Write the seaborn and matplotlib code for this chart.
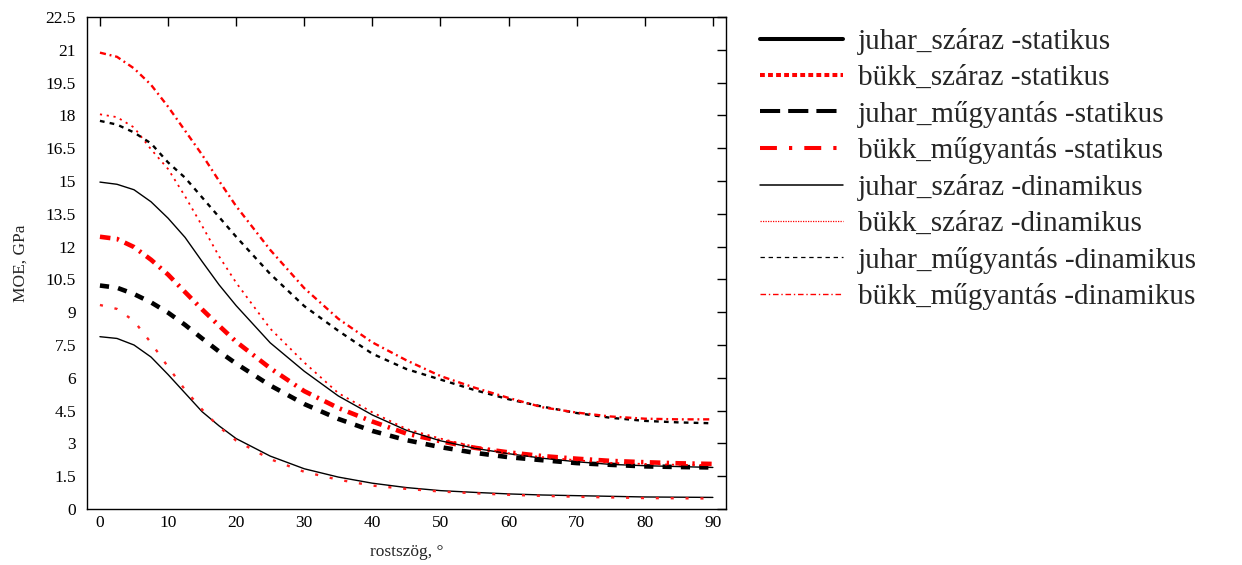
import numpy as np
import pandas as pd
import matplotlib
matplotlib.use("Agg")
import matplotlib.pyplot as plt
from matplotlib.lines import Line2D
import seaborn as sns

# ---- data ----
angle = [0, 2.5, 5, 7.5, 10, 12.5, 15, 17.5, 20, 25, 30, 35, 40, 45, 50, 55, 60, 65, 70, 75, 80, 85, 90]

juhar_szaraz_stat = [7.88, 7.8, 7.5, 6.95, 6.15, 5.3, 4.45, 3.8, 3.22, 2.42, 1.84, 1.46, 1.18, 0.98, 0.84, 0.76, 0.69, 0.64, 0.61, 0.58, 0.55, 0.54, 0.53]
bukk_szaraz_stat = [9.33, 9.15, 8.6, 7.6, 6.5, 5.45, 4.55, 3.75, 3.13, 2.28, 1.7, 1.34, 1.07, 0.92, 0.8, 0.72, 0.65, 0.6, 0.56, 0.53, 0.5, 0.49, 0.48]
juhar_mugy_stat = [10.22, 10.12, 9.83, 9.45, 8.98, 8.42, 7.8, 7.2, 6.65, 5.65, 4.8, 4.12, 3.57, 3.15, 2.83, 2.57, 2.37, 2.23, 2.1, 2.02, 1.95, 1.92, 1.9]
bukk_mugy_stat = [12.45, 12.35, 11.98, 11.4, 10.72, 9.92, 9.13, 8.38, 7.65, 6.44, 5.39, 4.62, 4.0, 3.45, 3.1, 2.8, 2.59, 2.42, 2.3, 2.2, 2.14, 2.09, 2.06]
juhar_szaraz_din = [14.95, 14.85, 14.6, 14.05, 13.3, 12.42, 11.32, 10.25, 9.3, 7.6, 6.3, 5.17, 4.3, 3.6, 3.12, 2.78, 2.53, 2.32, 2.16, 2.04, 1.98, 1.94, 1.9]
bukk_szaraz_din = [18.05, 17.92, 17.45, 16.45, 15.55, 14.3, 12.95, 11.55, 10.35, 8.25, 6.7, 5.3, 4.42, 3.66, 3.22, 2.85, 2.55, 2.37, 2.23, 2.11, 2.06, 2.02, 2.01]
juhar_mugy_din = [17.75, 17.58, 17.22, 16.72, 15.85, 15.15, 14.25, 13.35, 12.45, 10.75, 9.28, 8.15, 7.1, 6.4, 5.92, 5.44, 5.02, 4.68, 4.39, 4.17, 4.03, 3.96, 3.92]
bukk_mugy_din = [20.87, 20.68, 20.15, 19.4, 18.4, 17.3, 16.2, 15.0, 13.85, 11.85, 10.1, 8.7, 7.62, 6.8, 6.08, 5.55, 5.08, 4.65, 4.41, 4.23, 4.13, 4.1, 4.1]

labels = ["juhar_száraz -statikus", "bükk_száraz -statikus", "juhar_műgyantás -statikus",
          "bükk_műgyantás -statikus", "juhar_száraz -dinamikus", "bükk_száraz -dinamikus",
          "juhar_műgyantás -dinamikus", "bükk_műgyantás -dinamikus"]
series = [juhar_szaraz_stat, bukk_szaraz_stat, juhar_mugy_stat, bukk_mugy_stat,
          juhar_szaraz_din, bukk_szaraz_din, juhar_mugy_din, bukk_mugy_din]

yticks = [0, 1.5, 3, 4.5, 6, 7.5, 9, 10.5, 12, 13.5, 15, 16.5, 18, 19.5, 21, 22.5]
yticklabels = ["0", "1.5", "3", "4.5", "6", "7.5", "9", "10.5", "12", "13.5", "15", "16.5", "18", "19.5", "21", "22.5"]
xticks = [0, 10, 20, 30, 40, 50, 60, 70, 80, 90]

df = pd.DataFrame({"angle": angle})
for lab, s in zip(labels, series):
    df[lab] = s

# ---- styles ----
# plot styles (as drawn in the chart area)
plot_styles = [
    dict(color="black", lw=1.0, ls="-"),
    dict(color="#ff2020", lw=1.7, ls=(0, (1.3, 5.0))),
    dict(color="black", lw=3.3, ls=(0, (2.0, 2.0))),
    dict(color="#ff0000", lw=3.3, ls=(0, (2.3, 1.4, 0.5, 1.4))),
    dict(color="black", lw=1.0, ls="-"),
    dict(color="#ff0000", lw=1.3, ls=(0, (1.2, 2.6))),
    dict(color="black", lw=1.7, ls=(0, (2.0, 2.2))),
    dict(color="#ff0000", lw=1.7, ls=(0, (2.6, 1.6, 0.8, 1.6))),
]
# legend styles (as drawn in the legend)
legend_styles = [
    dict(color="black", lw=2.9, ls="-"),
    dict(color="#ff0000", lw=2.9, ls=(0, (1.2, 0.8))),
    dict(color="black", lw=2.9, ls=(0, (5.0, 2.0))),
    dict(color="#ff0000", lw=2.9, ls=(0, (4.2, 3.0, 0.8, 3.0))),
    dict(color="black", lw=1.1, ls="-"),
    dict(color="#ff0000", lw=0.9, ls=(0, (1.0, 1.0))),
    dict(color="black", lw=0.9, ls=(0, (3.5, 3.0))),
    dict(color="#ff0000", lw=1.0, ls=(0, (4.0, 2.0, 1.0, 2.0))),
]

sns.set_style("white")
plt.rcParams["font.family"] = ["Liberation Serif", "DejaVu Serif"]
plt.rcParams["axes.edgecolor"] = "black"
plt.rcParams["axes.linewidth"] = 1.0

fig = plt.figure(figsize=(12.42, 5.65), dpi=100)
ax = fig.add_axes([87 / 1242, 1 - 509 / 565, (726.5 - 87) / 1242, (509 - 17) / 565])

for lab, st in zip(labels, plot_styles):
    sns.lineplot(data=df, x="angle", y=lab, ax=ax, color=st["color"],
                 linewidth=st["lw"], linestyle=st["ls"], legend=False)
for line, st in zip(ax.lines, plot_styles):
    line.set_linestyle(st["ls"])

ax.set_xlim(-1.9, 92.0)
ax.set_ylim(0, 22.5)
ax.set_xticks(xticks)
ax.set_xticklabels([str(v) for v in xticks])
ax.set_yticks(yticks)
ax.set_yticklabels(yticklabels)
ax.tick_params(axis="both", which="major", direction="in", length=6.5, width=1.0,
               top=True, right=True, labelsize=12.5, colors="black")
ax.tick_params(axis="y", pad=8)
ax.tick_params(axis="x", pad=4)
for sp in ax.spines.values():
    sp.set_visible(True)
    sp.set_color("black")
    sp.set_linewidth(1.0)

ax.set_xlabel("rostszög, °", fontsize=12.5, labelpad=10)
ax.set_ylabel("MOE, GPa", fontsize=12.5, labelpad=12)
ax.grid(False)

handles = [Line2D([], [], color=st["color"], lw=st["lw"], ls=st["ls"]) for st in legend_styles]
fig.legend(handles=handles, labels=labels, loc="upper left",
           bbox_to_anchor=(760 / 1242, 1 - 28 / 565), frameon=False,
           fontsize=21, borderpad=0, borderaxespad=0, labelspacing=0.33,
           handlelength=2.85, handletextpad=0.5)

fig.savefig("out.png", dpi=100)
